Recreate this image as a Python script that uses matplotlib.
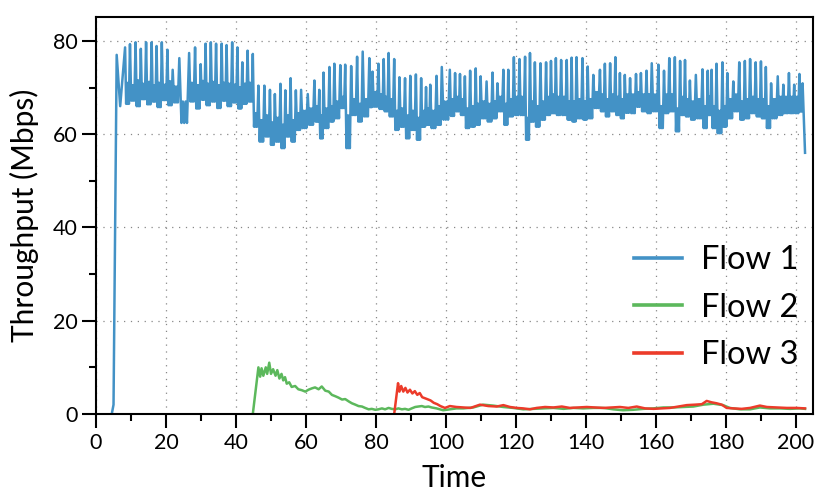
import matplotlib
matplotlib.use("Agg")
import matplotlib.pyplot as plt
from matplotlib.ticker import MultipleLocator
import numpy as np

plt.rcParams['font.family'] = ['Lato', 'DejaVu Sans']

# Flow 1: ramp-up, then spikes (peaks) over a dense band (troughs / band top)
f1_start_t = [4.5, 5.0, 5.9, 6.9]
f1_start = [0, 2, 77, 66]
f1_peak_t = [8.3, 9.7, 11.3, 12.8, 14.3, 15.9, 17.3, 18.8, 20.4, 21.9,
             23.8, 26.6, 28.3, 29.9, 31.3, 32.8, 34.3, 35.9, 37.3, 38.9,
             40.4, 41.8, 43.3, 44.8, 46.4, 48.1, 49.7, 51.1, 52.7, 54.1,
             55.6, 57.1, 58.6, 60.5, 62.4, 63.8, 65.0, 66.7, 68.1, 69.8,
             71.2, 72.9, 74.6, 76.2, 78.1, 79.0, 80.7, 82.2, 83.6, 85.2,
             86.7, 88.3, 89.8, 91.4, 92.9, 94.3, 95.5, 97.3, 98.8, 101.1,
             102.6, 104.0, 105.4, 106.9, 108.5, 109.9, 111.6, 113.3, 114.7, 116.4,
             117.8, 119.4, 121.0, 122.6, 124.0, 125.4, 127.0, 128.6, 130.0, 131.4,
             132.9, 134.5, 135.9, 137.3, 139.0, 140.5, 142.1, 144.0, 145.4, 146.9,
             148.4, 149.7, 151.1, 152.6, 154.3, 155.7, 157.3, 158.8, 160.7, 162.3,
             163.8, 165.4, 166.9, 168.3, 169.7, 171.4, 173.3, 174.8, 175.9, 177.3,
             179.0, 180.4, 182.1, 183.8, 185.4, 186.9, 188.5, 190.0, 191.4, 192.9,
             194.8, 196.4, 198.0, 199.5, 201.0, 201.9]
f1_peak = [78.6, 79.3, 79.7, 78.3, 79.7, 79.7, 78.9, 79.7, 78.1, 73.8,
           76.3, 77.4, 78.6, 75.0, 79.4, 79.7, 79.4, 79.4, 79.1, 79.7,
           78.6, 75.4, 77.9, 77.2, 70.4, 70.4, 69.5, 68.6, 70.8, 69.4,
           72.0, 69.4, 69.5, 68.6, 71.5, 69.5, 73.2, 74.4, 75.1, 74.8,
           74.9, 74.6, 76.6, 77.7, 76.3, 73.4, 75.1, 76.1, 77.4, 76.1,
           72.2, 72.0, 72.5, 72.8, 72.0, 70.1, 70.6, 72.5, 74.4, 73.8,
           73.1, 72.9, 72.4, 73.6, 74.1, 72.4, 71.3, 73.2, 70.9, 73.8,
           73.8, 76.5, 76.1, 76.6, 77.4, 75.4, 75.2, 75.4, 75.7, 76.3,
           75.9, 75.9, 76.4, 76.5, 76.3, 74.5, 72.7, 73.8, 75.1, 75.2,
           76.5, 73.1, 72.7, 72.0, 72.9, 73.1, 73.6, 75.2, 74.9, 73.6,
           76.3, 76.5, 75.7, 75.9, 71.5, 72.7, 73.9, 73.6, 73.8, 75.1,
           75.4, 73.1, 71.3, 75.4, 75.7, 76.1, 75.4, 75.6, 74.4, 70.9,
           72.4, 70.6, 73.1, 70.6, 72.9, 70.9]
f1_trough = [66.5, 67.2, 66.0, 67.5, 66.4, 67.0, 65.8, 67.3, 66.2, 66.8,
             62.4, 67.0, 65.5, 67.4, 66.2, 67.0, 65.6, 67.2, 66.0, 66.8,
             65.5, 66.5, 67.0, 61.6, 58.4, 59.5, 57.7, 58.4, 57.0, 59.5,
             58.4, 60.9, 61.3, 62.0, 62.7, 59.1, 61.3, 62.7, 63.4, 65.6,
             57.0, 64.1, 62.7, 63.8, 65.8, 65.9, 65.4, 64.9, 63.8, 60.9,
             61.6, 59.1, 60.9, 58.8, 61.6, 62.0, 61.3, 62.0, 63.1, 63.9,
             64.9, 64.1, 61.3, 61.6, 62.0, 63.4, 62.7, 63.4, 64.9, 62.0,
             63.8, 64.1, 64.1, 58.8, 62.7, 61.6, 63.1, 64.1, 64.5, 64.1,
             64.1, 63.1, 62.7, 63.4, 63.1, 63.4, 65.6, 64.9, 63.8, 64.9,
             64.1, 63.4, 64.6, 64.5, 65.9, 64.9, 64.5, 64.9, 61.3, 64.5,
             64.9, 60.6, 64.1, 63.8, 63.1, 63.4, 61.3, 64.1, 61.3, 60.2,
             61.6, 63.4, 64.9, 63.1, 63.4, 64.5, 63.8, 63.4, 61.3, 63.4,
             64.1, 64.5, 64.5, 64.5, 64.9]
f1_band = [71.0, 70.5, 71.5, 70.8, 71.2, 70.4, 71.0, 70.6, 71.3, 70.2,
           67.0, 71.0, 70.5, 71.4, 70.8, 71.2, 70.5, 71.0, 70.8, 70.6,
           70.0, 70.8, 71.0, 64.5, 63.0, 64.0, 62.5, 63.5, 62.0, 64.0,
           63.0, 64.5, 65.0, 65.5, 66.0, 64.0, 65.5, 66.0, 67.0, 68.0,
           64.0, 67.5, 66.5, 67.5, 69.0, 69.0, 68.5, 68.0, 67.5, 65.0,
           65.5, 64.0, 65.0, 63.5, 65.0, 65.5, 65.0, 66.0, 67.0, 67.5,
           68.0, 67.5, 65.5, 66.0, 66.5, 67.0, 66.5, 67.0, 68.0, 66.5,
           67.5, 68.0, 68.0, 63.5, 67.0, 66.0, 67.0, 68.0, 68.5, 68.0,
           68.0, 67.0, 67.0, 67.5, 67.0, 67.5, 69.0, 68.5, 67.5, 68.5,
           68.0, 67.5, 68.5, 68.5, 69.0, 68.5, 68.5, 68.5, 66.0, 68.5,
           68.5, 65.5, 68.0, 67.5, 67.0, 67.5, 66.0, 68.0, 66.0, 65.0,
           66.0, 67.5, 68.5, 67.0, 67.5, 68.0, 67.5, 67.5, 66.0, 67.5,
           68.0, 68.0, 68.0, 68.0, 68.5]
f1_end_t = [202.6]
f1_end = [56]

f2_t = [44.8, 46.0, 46.4, 46.9, 47.3, 47.8, 48.5, 48.9, 49.5, 50.0, 50.6, 51.3, 51.8,
        52.4, 53.0, 53.5, 54.0, 54.5, 55.2, 55.9, 56.9, 57.8, 58.8, 59.8, 60.7, 61.7,
        62.6, 63.6, 64.5, 65.5, 66.5, 67.4, 68.4, 69.3, 70.3, 71.2, 72.2, 73.1, 74.1,
        75.0, 76.0, 76.9, 77.9, 78.8, 79.8, 80.7, 81.7, 82.6, 83.6, 84.5, 85.5, 86.4,
        87.4, 88.3, 89.3, 90.2, 91.2, 92.1, 93.1, 94.0, 95.0, 95.9, 97.3, 99.2, 101.1,
        103.0, 105.0, 107.8, 110.6, 113.5, 116.4, 119.2, 122.1, 125.0, 127.9, 130.7,
        133.6, 136.4, 139.2, 142.1, 145.0, 147.8, 150.6, 153.5, 156.4, 159.2, 162.1,
        165.0, 167.8, 170.7, 173.6, 176.4, 179.2, 181.1, 184.0, 186.9, 189.7, 192.6,
        195.4, 198.3, 201.1, 202.6]
f2 = [0, 7.5, 10.0, 8.0, 9.8, 8.2, 10.0, 8.6, 11.0, 8.6, 9.6, 8.2, 9.4,
      7.6, 8.6, 7.2, 7.9, 6.5, 6.8, 5.8, 6.0, 5.3, 5.1, 4.8, 5.2, 5.5,
      5.7, 5.3, 5.9, 5.0, 4.8, 4.1, 3.8, 3.5, 3.1, 3.2, 2.7, 2.3, 2.0,
      1.7, 1.6, 1.3, 1.0, 1.1, 0.9, 1.0, 1.2, 1.0, 1.3, 1.1, 1.0, 1.2,
      1.0, 1.1, 0.9, 1.2, 1.5, 1.6, 1.7, 1.5, 1.6, 1.4, 1.2, 0.8, 1.0,
      1.2, 1.2, 1.4, 2.0, 1.8, 1.5, 1.3, 1.0, 1.1, 1.2, 1.3,
      1.1, 1.3, 1.2, 1.3, 1.3, 1.0, 0.8, 0.9, 1.1, 1.2, 1.4,
      1.4, 1.5, 1.6, 2.0, 2.2, 1.9, 1.3, 1.0, 1.0, 1.4, 1.2,
      1.2, 1.1, 1.2, 1.1]

f3_t = [85.2, 86.3, 86.7, 87.2, 87.8, 88.4, 89.0, 89.7, 90.4, 91.1, 91.8, 92.5, 93.2,
        93.9, 94.6, 95.6, 96.5, 97.5, 98.4, 99.7, 101.1, 103.0, 105.0, 107.0, 109.7,
        112.1, 114.5, 116.4, 118.3, 120.2, 122.1, 124.0, 125.9, 128.3, 130.7, 133.1,
        135.4, 137.8, 140.2, 142.6, 145.0, 147.4, 149.7, 152.1, 154.5, 156.9, 159.3,
        161.7, 164.0, 166.4, 168.8, 171.2, 173.1, 174.5, 175.9, 177.3, 178.8, 180.2,
        182.1, 184.5, 186.9, 189.7, 191.7, 194.5, 197.4, 200.2, 202.6]
f3 = [0, 6.6, 4.8, 6.0, 4.8, 5.6, 4.6, 5.2, 4.4, 4.9, 4.1, 4.5, 3.6,
      3.4, 3.2, 2.9, 2.4, 2.1, 1.7, 1.3, 1.7, 1.5, 1.4, 1.3, 2.0,
      1.7, 1.6, 1.9, 1.5, 1.3, 1.2, 1.0, 1.3, 1.5, 1.4, 1.6,
      1.3, 1.4, 1.5, 1.4, 1.3, 1.4, 1.5, 1.3, 1.6, 1.2, 1.1,
      1.2, 1.3, 1.6, 1.9, 2.0, 2.1, 2.8, 2.5, 2.3, 2.0, 1.3,
      1.2, 1.1, 1.3, 1.8, 1.5, 1.4, 1.3, 1.3, 1.2]

# between two spikes the signal swings trough <-> band top a couple of times
t1 = list(f1_start_t)
v1 = list(f1_start)
for i, (pt, pv) in enumerate(zip(f1_peak_t, f1_peak)):
    t1.append(pt)
    v1.append(pv)
    if i + 1 < len(f1_peak_t) and i < len(f1_trough):
        d = f1_peak_t[i + 1] - pt
        lo, hi = f1_trough[i], f1_band[i]
        t1 += [pt + f * d for f in (0.22, 0.36, 0.5, 0.64, 0.78)]
        v1 += [lo, hi, lo, hi, lo]
t1 += f1_end_t
v1 += f1_end

fig = plt.figure(figsize=(8.3, 4.98), dpi=100)
ax = fig.add_axes([0.1157, 0.1687, 0.8635, 0.797])

ax.plot(t1, v1, color='#4392c6', lw=1.8, label='Flow 1')
ax.plot(f2_t, f2, color='#5cb85c', lw=1.8, label='Flow 2')
ax.plot(f3_t, f3, color='#ec3b2a', lw=1.8, label='Flow 3')

ax.set_xlim(0, 204.8)
ax.set_ylim(0, 85.1)
ax.xaxis.set_major_locator(MultipleLocator(20))
ax.xaxis.set_minor_locator(MultipleLocator(10))
ax.yaxis.set_major_locator(MultipleLocator(20))
ax.yaxis.set_minor_locator(MultipleLocator(10))
ax.tick_params(which='major', direction='out', length=10, width=1.5, labelsize=15.5, top=False, right=False)
ax.tick_params(which='minor', direction='out', length=5, width=1.5, top=False, right=False)
for s in ax.spines.values():
    s.set_linewidth(1.5)
ax.grid(True, which='major', color='#888888', linestyle=(0, (1, 4.5)), linewidth=0.9)

ax.set_xlabel('Time', fontsize=21.5, labelpad=8)
ax.set_ylabel('Throughput (Mbps)', fontsize=21.5, labelpad=10)

leg = ax.legend(loc='lower right', frameon=False, fontsize=23.5, handlelength=1.47,
                handletextpad=0.58, labelspacing=0.54, borderpad=0, borderaxespad=0,
                bbox_to_anchor=(0.98, 0.11))
for h in leg.get_lines():
    h.set_linewidth(2.6)

fig.savefig('out.png', dpi=100)
